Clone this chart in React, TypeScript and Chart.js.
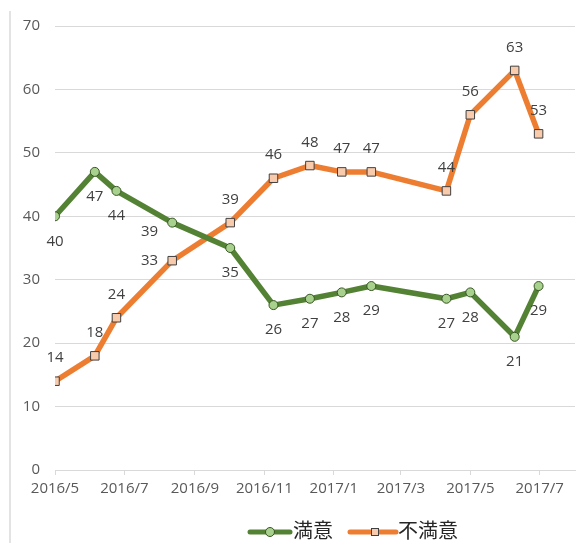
import React, { useEffect, useRef } from "react";
import { Chart, registerables } from "chart.js";

Chart.register(...registerables);

const pointDates = [
  "2016-05-01", "2016-06-05", "2016-06-24", "2016-08-12", "2016-10-02",
  "2016-11-09", "2016-12-11", "2017-01-08", "2017-02-03", "2017-04-10",
  "2017-05-01", "2017-06-09", "2017-06-30",
];
const satisfied = [40, 47, 44, 39, 35, 26, 27, 28, 29, 27, 28, 21, 29];
const dissatisfied = [14, 18, 24, 33, 39, 46, 48, 47, 47, 44, 56, 63, 53];
const xTickLabels = ["2016/5", "2016/7", "2016/9", "2016/11", "2017/1", "2017/3", "2017/5", "2017/7"];
const yTicks = [0, 10, 20, 30, 40, 50, 60, 70];
const seriesNames = ["満意", "不満意"];
const axisStart = "2016-05-01";
const axisEnd = "2017-08-01";

const satisfiedLabelPos = ["below", "below", "below", "belowLeft", "below", "below", "below", "below", "below", "below", "below", "below", "below"];
const dissatisfiedLabelPos = ["above", "above", "above", "left", "above", "above", "above", "above", "above", "above", "above", "above", "above"];

const DAY = 86400000;
function dayOf(s: string): number {
  const p = s.split(/[-/]/).map(Number);
  const base = axisStart.split("-").map(Number);
  return Math.round((Date.UTC(p[0], p[1] - 1, p[2] || 1) - Date.UTC(base[0], base[1] - 1, base[2])) / DAY);
}

const GREEN = "#548235";
const ORANGE = "#ED7D31";
const GRID = "#d9d9d9";
const FONT = "'Open Sans', 'Noto Sans', sans-serif";

const extrasPlugin = {
  id: "extras",
  beforeDraw(chart: any) {
    const ctx = chart.ctx;
    ctx.save();
    ctx.fillStyle = "#e3e3e3";
    ctx.fillRect(9, 11, 2, chart.height - 11);
    ctx.restore();
  },
  afterDatasetsDraw(chart: any) {
    const ctx = chart.ctx;
    const posSets = [satisfiedLabelPos, dissatisfiedLabelPos];
    ctx.save();
    ctx.font = `15px ${FONT}`;
    ctx.fillStyle = "#404040";
    chart.data.datasets.forEach((ds: any, di: number) => {
      const meta = chart.getDatasetMeta(di);
      meta.data.forEach((el: any, i: number) => {
        const v = ds.data[i].y;
        const pos = posSets[di][i];
        let x = el.x, y = el.y;
        ctx.textAlign = "center";
        ctx.textBaseline = "middle";
        if (pos === "below") y += 25;
        else if (pos === "above") y -= 23;
        else if (pos === "left") { x -= 14; ctx.textAlign = "right"; }
        else if (pos === "belowLeft") { x -= 14; y += 9; ctx.textAlign = "right"; }
        ctx.fillText(String(v), x, y);
      });
    });
    ctx.restore();
  },
  afterDraw(chart: any) {
    const ctx = chart.ctx;
    ctx.save();
    const cy = 532;
    let x = 248;
    ctx.strokeStyle = GREEN;
    ctx.lineWidth = 5;
    ctx.lineCap = "round";
    ctx.beginPath(); ctx.moveTo(x + 2, cy); ctx.lineTo(x + 42, cy); ctx.stroke();
    ctx.beginPath(); ctx.arc(x + 22, cy, 4.5, 0, Math.PI * 2);
    ctx.fillStyle = "#a9d18e"; ctx.fill();
    ctx.lineWidth = 1; ctx.strokeStyle = "#375623"; ctx.stroke();
    ctx.font = `20px 'Noto Sans CJK JP', sans-serif`;
    ctx.fillStyle = "#262626";
    ctx.textAlign = "left";
    ctx.textBaseline = "middle";
    ctx.fillText(seriesNames[0], x + 45, cy - 2);
    x = 348;
    ctx.strokeStyle = ORANGE;
    ctx.lineWidth = 5;
    ctx.beginPath(); ctx.moveTo(x + 2, cy); ctx.lineTo(x + 48, cy); ctx.stroke();
    ctx.fillStyle = "#f8cbad";
    ctx.fillRect(x + 23, cy - 4, 8, 8);
    ctx.lineWidth = 1; ctx.strokeStyle = "#404040";
    ctx.strokeRect(x + 23.5, cy - 3.5, 7, 7);
    ctx.fillStyle = "#262626";
    ctx.fillText(seriesNames[1], x + 50, cy - 2);
    ctx.restore();
  },
};

export default function App() {
  const ref = useRef<HTMLCanvasElement | null>(null);
  useEffect(() => {
    if (!ref.current) return;
    const xs = pointDates.map(dayOf);
    const tickVals = xTickLabels.map(dayOf);
    const chart = new Chart(ref.current, {
      type: "line",
      data: {
        datasets: [
          {
            label: seriesNames[0],
            data: satisfied.map((v, i) => ({ x: xs[i], y: v })),
            borderColor: GREEN,
            borderWidth: 5.5,
            borderJoinStyle: "round",
            borderCapStyle: "round",
            pointStyle: "circle",
            pointRadius: 4.5,
            pointBackgroundColor: "#a9d18e",
            pointBorderColor: "#375623",
            pointBorderWidth: 1,
            tension: 0,
          },
          {
            label: seriesNames[1],
            data: dissatisfied.map((v, i) => ({ x: xs[i], y: v })),
            borderColor: ORANGE,
            borderWidth: 5.5,
            borderJoinStyle: "round",
            borderCapStyle: "round",
            pointStyle: "rect",
            pointRadius: 6,
            pointBackgroundColor: "#f8cbad",
            pointBorderColor: "#404040",
            pointBorderWidth: 1,
            tension: 0,
          },
        ],
      },
      options: {
        animation: false,
        responsive: false,
        layout: { autoPadding: false, padding: { left: 0, right: 1, top: 26, bottom: 0 } },
        plugins: { legend: { display: false }, tooltip: { enabled: false } },
        scales: {
          x: {
            type: "linear",
            min: 0,
            max: dayOf(axisEnd),
            afterBuildTicks: (s: any) => { s.ticks = tickVals.map((v) => ({ value: v })); },
            afterFit: (s: any) => { s.height = 73; s.paddingRight = 0; s.paddingLeft = 0; },
            grid: { drawOnChartArea: false, drawTicks: true, tickLength: 5, color: GRID },
            border: { display: true, color: GRID },
            ticks: {
              autoSkip: false,
              maxRotation: 0,
              padding: 5,
              color: "#595959",
              font: { size: 15, family: FONT },
              callback: (_v: any, i: number) => xTickLabels[i],
            },
          },
          y: {
            min: 0,
            max: 70,
            afterBuildTicks: (s: any) => { s.ticks = yTicks.map((v) => ({ value: v })); },
            afterFit: (s: any) => { s.width = 55; s.paddingTop = 0; s.paddingBottom = 0; },
            grid: { color: GRID, drawTicks: false },
            border: { display: false },
            ticks: {
              padding: 15,
              color: "#595959",
              font: { size: 15, family: FONT },
            },
          },
        },
      },
      plugins: [extrasPlugin],
    });
    return () => chart.destroy();
  }, []);
  return (
    <div style={{ position: "absolute", left: 0, top: 0, width: 576, height: 543, background: "#fff" }}>
      <canvas ref={ref} width={576} height={543} />
    </div>
  );
}
